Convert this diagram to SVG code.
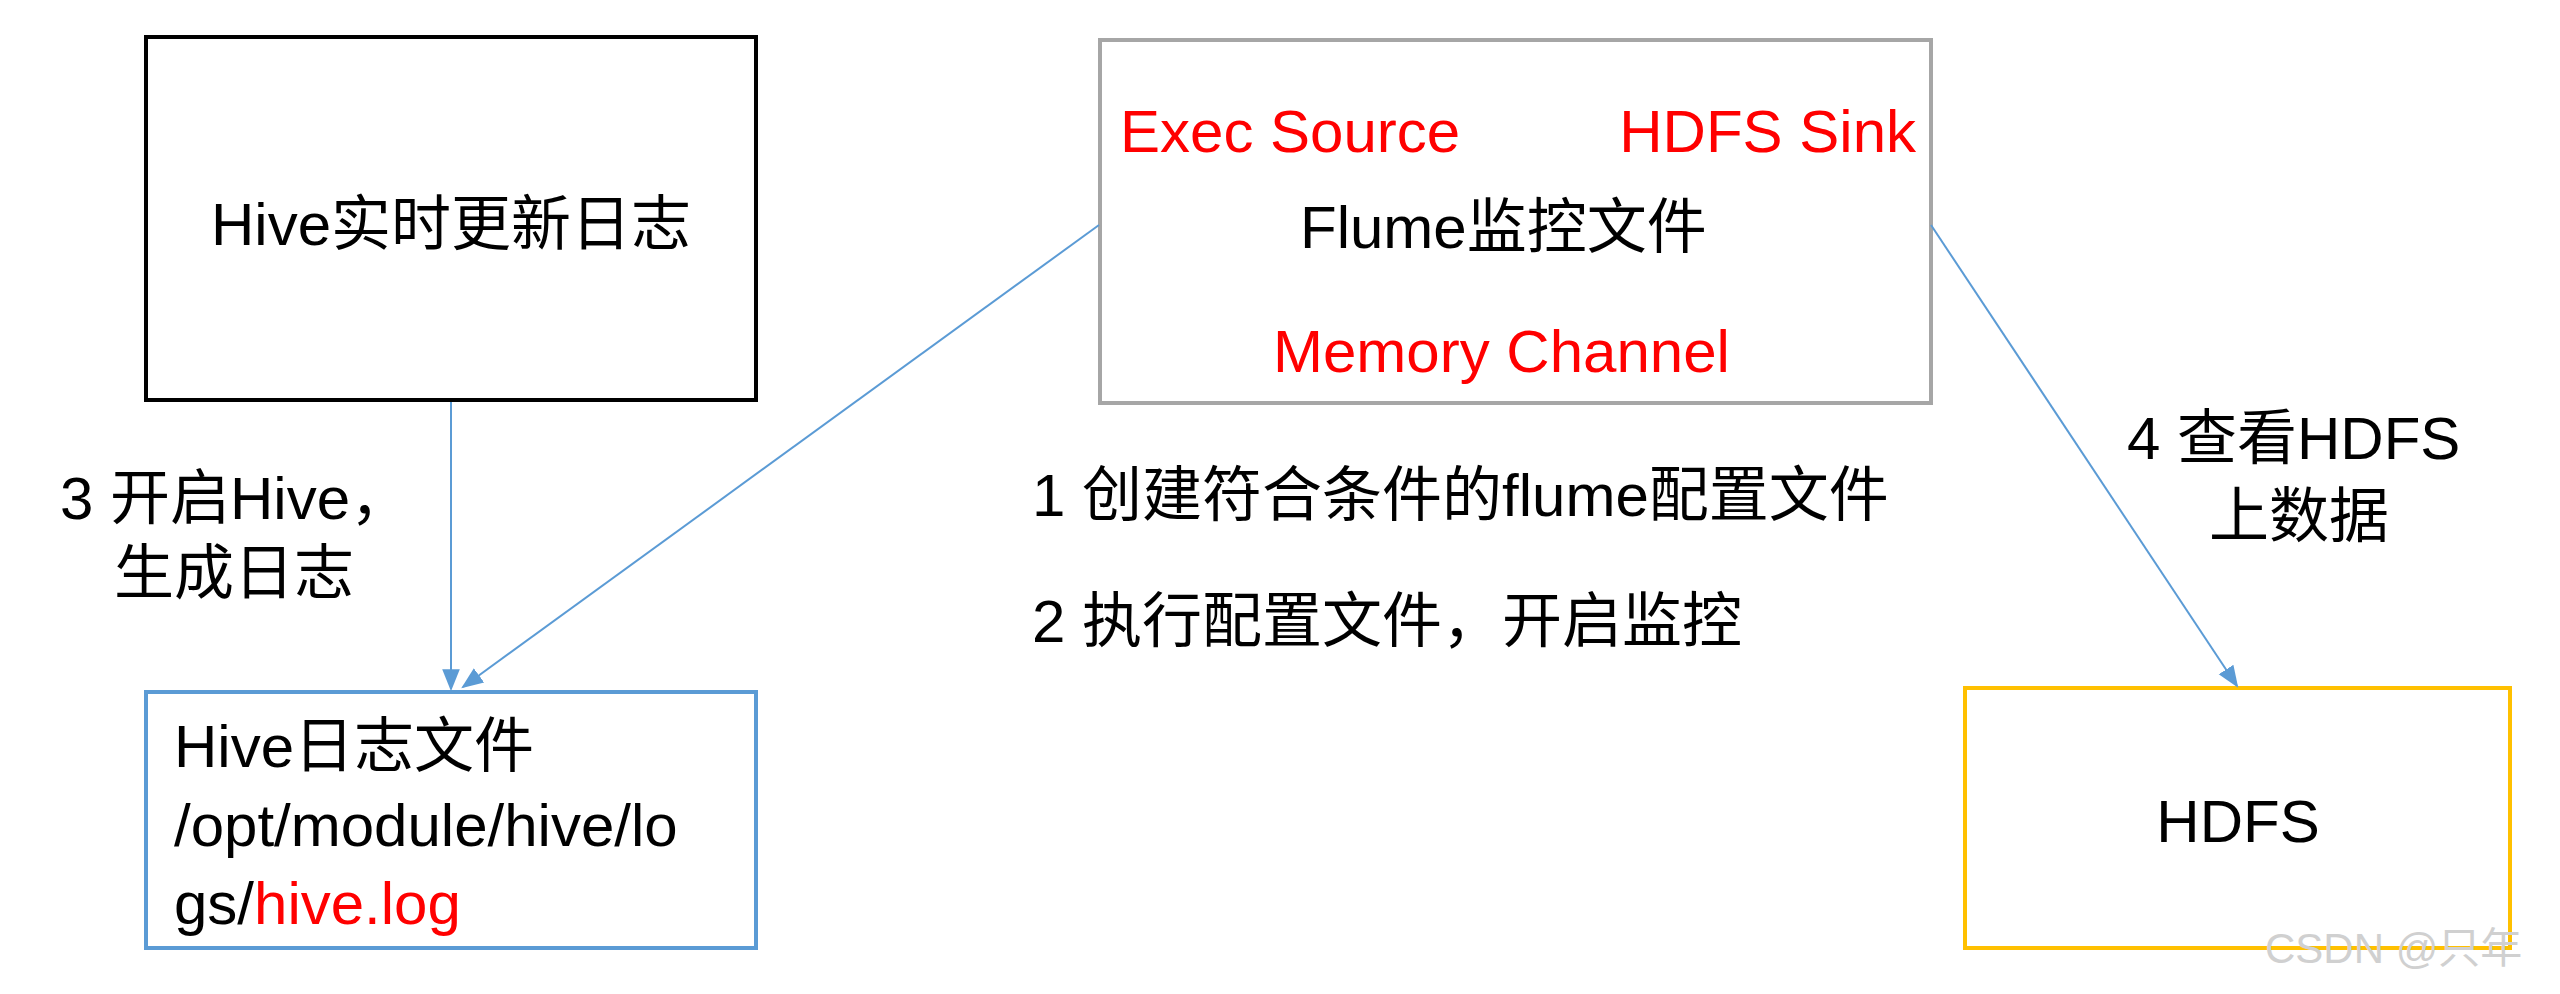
<svg xmlns="http://www.w3.org/2000/svg" width="2560" height="994" viewBox="0 0 2560 994">
<style>
text{font-family:"Liberation Sans","Noto Sans CJK SC",sans-serif;font-size:60px;fill:#000}
.r{fill:#ff0000}
.c{stroke:#5B9BD5;stroke-width:2;fill:none}
</style>
<defs><marker id="a" viewBox="0 0 10 10" refX="9" refY="5" markerWidth="9" markerHeight="9" orient="auto" markerUnits="userSpaceOnUse"><path d="M0,0L10,5L0,10z" fill="#5B9BD5" transform="scale(1)"/></marker>
<marker id="b" viewBox="0 0 10 10" refX="9" refY="5" markerWidth="22" markerHeight="22" orient="auto" markerUnits="userSpaceOnUse"><path d="M0,1L10,5L0,9z" fill="#5B9BD5"/></marker></defs>
<rect width="2560" height="994" fill="#fff"/>
<g id="hive"><rect x="146" y="37" width="610" height="363" fill="none" stroke="#000" stroke-width="4"/><text x="451" y="245" text-anchor="middle">Hive实时更新日志</text></g>
<g id="flume"><rect x="1100" y="40" width="831" height="363" fill="none" stroke="#A6A6A6" stroke-width="4"/>
<text x="1120" y="152" class="r">Exec Source</text><text x="1916" y="152" class="r" text-anchor="end">HDFS Sink</text>
<text x="1300" y="248">Flume监控文件</text><text x="1273" y="372" class="r">Memory Channel</text></g>
<g id="log"><rect x="146" y="692" width="610" height="256" fill="none" stroke="#5B9BD5" stroke-width="4"/>
<text x="174" y="767">Hive日志文件</text><text x="174" y="846">/opt/module/hive/lo</text><text x="174" y="924">gs/<tspan class="r">hive.log</tspan></text></g>
<g id="hdfs"><rect x="1965" y="688" width="545" height="260" fill="none" stroke="#FFC000" stroke-width="4"/><text x="2238" y="842" text-anchor="middle">HDFS</text></g>
<g id="labels">
<text x="60" y="519">3 开启Hive，</text><text x="114" y="594">生成日志</text>
<text x="1032" y="516">1 创建符合条件的flume配置文件</text><text x="1032" y="642">2 执行配置文件，开启监控</text>
<text x="2127" y="459">4 查看HDFS</text><text x="2209" y="537">上数据</text>
</g>
<g id="connectors">
<line class="c" x1="451" y1="402" x2="451" y2="689" marker-end="url(#b)"/>
<line class="c" x1="1099" y1="225" x2="463" y2="687" marker-end="url(#b)"/>
<line class="c" x1="1931" y1="225" x2="2237" y2="686" marker-end="url(#b)"/>
</g>
<text x="2265" y="963" style="font-size:42px;fill:#d0d0d0">CSDN @只年</text>
</svg>
